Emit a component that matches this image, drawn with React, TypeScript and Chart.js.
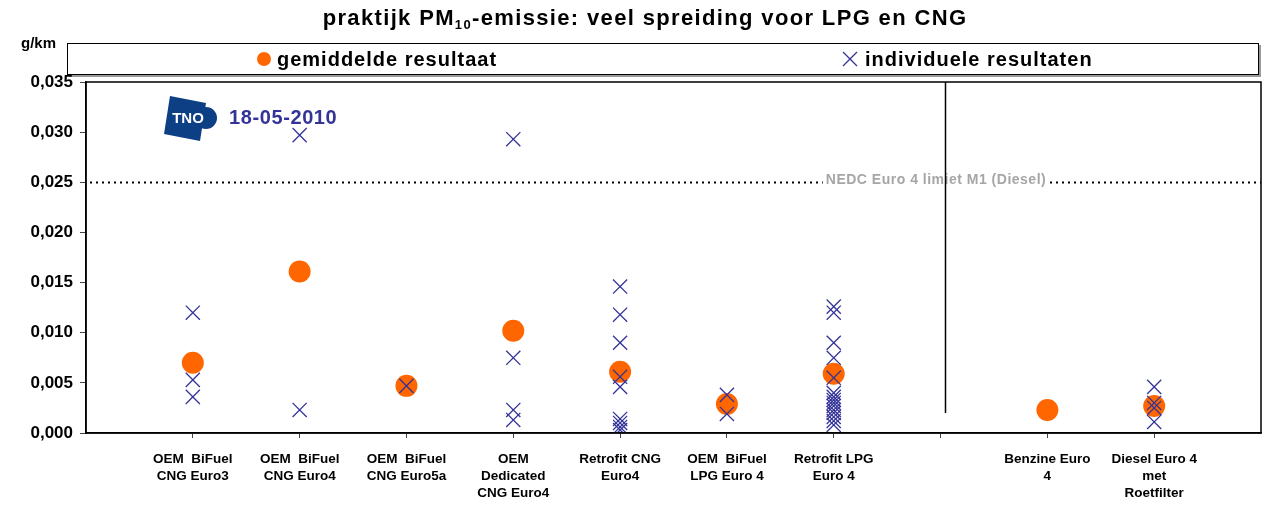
import React, { useEffect, useRef } from "react";
import { Chart, registerables } from "chart.js";

Chart.register(...registerables);

// ---- data ----
const categories: string[][] = [
  ["OEM  BiFuel", "CNG Euro3"],
  ["OEM  BiFuel", "CNG Euro4"],
  ["OEM  BiFuel", "CNG Euro5a"],
  ["OEM", "Dedicated", "CNG Euro4"],
  ["Retrofit CNG", "Euro4"],
  ["OEM  BiFuel", "LPG Euro 4"],
  ["Retrofit LPG", "Euro 4"],
  [""],
  ["Benzine Euro", "4"],
  ["Diesel Euro 4", "met", "Roetfilter"],
];

const meanValues: (number | null)[] = [0.007, 0.0161, 0.0047, 0.0102, 0.0061, 0.0029, 0.0059, null, 0.0023, 0.0027];

const individualValues: number[][] = [
  [0.012, 0.0053, 0.0036],
  [0.0297, 0.0023],
  [0.0047],
  [0.0293, 0.0075, 0.0023, 0.0013],
  [0.0146, 0.0118, 0.009, 0.0056, 0.0046, 0.0014, 0.001, 0.0006, 0.0003],
  [0.0038, 0.0019],
  [0.0126, 0.012, 0.009, 0.0075, 0.0055, 0.004, 0.0036, 0.0033, 0.003, 0.0027, 0.0023, 0.002, 0.0016, 0.0012, 0.0008],
  [],
  [],
  [0.0046, 0.003, 0.0025, 0.0011],
];

const yTicks: number[] = [0, 0.005, 0.01, 0.015, 0.02, 0.025, 0.03, 0.035];
const limitValue = 0.025;
const limitLabel = "NEDC Euro 4 limiet M1 (Diesel)";
const separatorX = 8.04;
const separatorBottom = 0.002;
const legendLabels = ["gemiddelde resultaat", "individuele resultaten"];
const dateLabel = "18-05-2010";

const ORANGE = "#FF6600";
const NAVY = "#333399";
const FONT = "'Liberation Sans', Arial, sans-serif";
const PLOT_RIGHT_GAP = 5;

const decorPlugin = {
  id: "decor",
  afterLayout(chart: any) {
    // stretch the plot area to the right edge (Chart.js reserves extra room)
    const xs = chart.scales.x;
    const R = chart.width - PLOT_RIGHT_GAP;
    xs.right = R;
    xs.width = R - xs.left;
    xs.configure();
    chart.chartArea.right = R;
    chart.chartArea.width = R - chart.chartArea.left;
  },
  beforeDraw(chart: any) {
    const ctx = chart.ctx as any;
    ctx.save();
    ctx.fillStyle = "#fff";
    ctx.fillRect(0, 0, chart.width, chart.height);

    // title with subscript
    const p1 = "praktijk PM";
    const sub = "10";
    const p2 = "-emissie: veel spreiding voor LPG en CNG";
    ctx.fillStyle = "#000";
    ctx.textBaseline = "alphabetic";
    ctx.letterSpacing = "1.35px";
    ctx.font = `bold 22px ${FONT}`;
    const w1 = ctx.measureText(p1).width;
    const w3 = ctx.measureText(p2).width;
    ctx.font = `bold 13px ${FONT}`;
    const w2 = ctx.measureText(sub).width;
    const total = w1 + w2 + w3;
    let x = 645 - total / 2;
    const by = 25;
    ctx.font = `bold 22px ${FONT}`;
    ctx.textAlign = "left";
    ctx.fillText(p1, x, by);
    x += w1;
    ctx.font = `bold 13px ${FONT}`;
    ctx.fillText(sub, x, by + 4);
    x += w2;
    ctx.font = `bold 22px ${FONT}`;
    ctx.fillText(p2, x, by);
    ctx.letterSpacing = "0px";

    // unit
    ctx.font = `bold 15px ${FONT}`;
    ctx.textBaseline = "middle";
    ctx.fillText("g/km", 21, 44);

    // legend box
    ctx.fillStyle = "#999";
    ctx.fillRect(1259, 45, 2, 32);
    ctx.fillRect(69, 75, 1192, 2);
    ctx.fillStyle = "#fff";
    ctx.fillRect(67, 43, 1192, 32);
    ctx.strokeStyle = "#000";
    ctx.lineWidth = 1;
    ctx.strokeRect(67.5, 43.5, 1191, 31);

    ctx.fillStyle = ORANGE;
    ctx.beginPath();
    ctx.arc(264, 59, 7, 0, Math.PI * 2);
    ctx.fill();
    ctx.fillStyle = "#000";
    ctx.font = `bold 20px ${FONT}`;
    ctx.letterSpacing = "1px";
    ctx.textAlign = "left";
    ctx.fillText(legendLabels[0], 277, 60);

    ctx.strokeStyle = NAVY;
    ctx.lineWidth = 1.3;
    ctx.beginPath();
    ctx.moveTo(843, 52);
    ctx.lineTo(857, 66);
    ctx.moveTo(857, 52);
    ctx.lineTo(843, 66);
    ctx.stroke();
    ctx.fillText(legendLabels[1], 865, 60);
    ctx.letterSpacing = "0px";
    ctx.restore();
  },
  beforeDatasetsDraw(chart: any) {
    const ctx = chart.ctx as any;
    const { left, right, top } = chart.chartArea;
    const xs = chart.scales.x;
    const ys = chart.scales.y;
    ctx.save();
    // limit line
    const ly = Math.round(ys.getPixelForValue(limitValue)) + 0.5;
    ctx.strokeStyle = "#000";
    ctx.lineWidth = 2;
    ctx.setLineDash([2, 4]);
    ctx.beginPath();
    ctx.moveTo(left + 4, ly);
    ctx.lineTo(right, ly);
    ctx.stroke();
    ctx.setLineDash([]);
    ctx.font = `bold 14px ${FONT}`;
    ctx.letterSpacing = "0.5px";
    const tw = ctx.measureText(limitLabel).width;
    const cx = 936;
    ctx.fillStyle = "#fff";
    ctx.fillRect(cx - tw / 2 - 3, ly - 8, tw + 6, 16);
    ctx.fillStyle = "#a6a6a6";
    ctx.textAlign = "center";
    ctx.textBaseline = "middle";
    ctx.fillText(limitLabel, cx, ly - 2);
    ctx.letterSpacing = "0px";

    // separator
    const sx = Math.round(xs.getPixelForValue(separatorX)) + 0.5;
    ctx.strokeStyle = "#000";
    ctx.lineWidth = 1.5;
    ctx.beginPath();
    ctx.moveTo(sx, top);
    ctx.lineTo(sx, ys.getPixelForValue(separatorBottom));
    ctx.stroke();

    // logo
    ctx.fillStyle = "#0d3f85";
    ctx.beginPath();
    ctx.moveTo(170, 96);
    ctx.lineTo(206, 103);
    ctx.lineTo(200, 141);
    ctx.lineTo(164, 134);
    ctx.closePath();
    ctx.fill();
    ctx.beginPath();
    ctx.arc(206, 118, 11, 0, Math.PI * 2);
    ctx.fill();
    ctx.fillStyle = "#fff";
    ctx.font = `bold 15px ${FONT}`;
    ctx.textAlign = "center";
    ctx.fillText("TNO", 188, 119);
    ctx.font = `bold 20px ${FONT}`;
    ctx.letterSpacing = "0.6px";
    ctx.textAlign = "left";
    ctx.fillStyle = NAVY;
    ctx.fillText(dateLabel, 229, 118);
    ctx.letterSpacing = "0px";
    ctx.restore();
  },
  afterDraw(chart: any) {
    const ctx = chart.ctx as CanvasRenderingContext2D;
    const { left, right, top, bottom } = chart.chartArea;
    ctx.save();
    ctx.strokeStyle = "#000";
    ctx.lineWidth = 1.5;
    ctx.strokeRect(left, top, right - left, bottom - top);
    ctx.restore();
  },
};

export default function App() {
  const ref = useRef<HTMLCanvasElement | null>(null);
  useEffect(() => {
    if (!ref.current) return;
    const meanData = meanValues
      .map((v, i) => (v === null ? null : { x: i + 1, y: v }))
      .filter((d) => d !== null);
    const indData: { x: number; y: number }[] = [];
    individualValues.forEach((arr, i) => arr.forEach((v) => indData.push({ x: i + 1, y: v })));

    const chart = new Chart(ref.current, {
      type: "scatter",
      data: {
        datasets: [
          {
            label: legendLabels[1],
            data: indData,
            pointStyle: "crossRot",
            pointRadius: 10,
            pointHoverRadius: 10,
            borderColor: NAVY,
            backgroundColor: NAVY,
            pointBorderWidth: 1.3,
            order: 0,
          },
          {
            label: legendLabels[0],
            data: meanData as any,
            pointStyle: "circle",
            pointRadius: 11,
            pointHoverRadius: 11,
            backgroundColor: ORANGE,
            borderColor: ORANGE,
            pointBorderWidth: 0,
            order: 1,
          },
        ],
      },
      options: {
        animation: false,
        responsive: false,
        devicePixelRatio: 1,
        layout: { padding: { top: 82, right: 5, left: 0, bottom: 0 } },
        plugins: { legend: { display: false }, tooltip: { enabled: false }, title: { display: false } },
        scales: {
          x: {
            type: "linear",
            min: 0,
            max: 11,
            afterBuildTicks: (scale: any) => {
              scale.ticks = categories.map((_, i) => ({ value: i + 1 }));
            },
            afterFit: (scale: any) => {
              scale.height = 72;
              scale.paddingLeft = 0;
              scale.paddingRight = 0;
            },
            ticks: {
              autoSkip: false,
              maxRotation: 0,
              minRotation: 0,
              padding: 13,
              color: "#000",
              font: { family: FONT, weight: "bold", size: 13.5, lineHeight: 1.25 },
              callback: (v: any) => categories[Math.round(v) - 1] ?? "",
            },
            grid: { display: true, drawOnChartArea: false, tickLength: 5, color: "#444", lineWidth: 1 },
            border: { display: true, color: "#000", width: 1.5 },
          },
          y: {
            min: 0,
            max: 0.035,
            afterBuildTicks: (scale: any) => {
              scale.ticks = yTicks.map((v) => ({ value: v }));
            },
            afterFit: (scale: any) => {
              scale.width = 86;
            },
            ticks: {
              padding: 7,
              color: "#000",
              font: { family: FONT, weight: "bold", size: 17 },
              callback: (v: any) => Number(v).toFixed(3).replace(".", ","),
            },
            grid: { display: true, drawOnChartArea: false, tickLength: 6, color: "#444", lineWidth: 1 },
            border: { display: true, color: "#000", width: 1.5 },
          },
        },
      },
      plugins: [decorPlugin],
    });
    return () => chart.destroy();
  }, []);

  return (
    <div style={{ position: "fixed", left: 0, top: 0, width: 1266, height: 505, background: "#fff" }}>
      <canvas ref={ref} width={1266} height={505} style={{ display: "block", width: 1266, height: 505 }} />
    </div>
  );
}
